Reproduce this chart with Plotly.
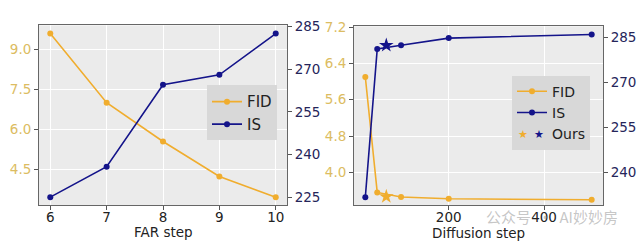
import plotly.graph_objects as go

# ---- data ----
far_steps = [6, 7, 8, 9, 10]
far_fid = [9.58, 7.00, 5.55, 4.24, 3.47]
far_is = [225.0, 235.7, 264.5, 268.0, 282.5]

diff_steps = [25, 50, 100, 200, 500]
diff_fid = [6.10, 3.56, 3.46, 3.42, 3.40]
diff_is = [231.7, 281.1, 282.3, 284.7, 285.9]

ours_step = [69]
ours_fid = [3.47]
ours_is = [282.3]

left_fid_ticks = [4.5, 6.0, 7.5, 9.0]
left_is_ticks = [225, 240, 255, 270, 285]
right_fid_ticks = [4.0, 4.8, 5.6, 6.4, 7.2]
right_is_ticks = [240, 255, 270, 285]
far_ticks = [6, 7, 8, 9, 10]
diff_ticks = [200, 400]

# ---- style ----
FID_C = "#f0ad2e"
IS_C = "#14148a"
FID_TICK = "#dcbc62"
IS_TICK = "#25255a"
BG = "#ebebeb"
FONT = "DejaVu Sans"
TICK_SIZE = 13.5

W, H = 644, 245
def px_x(a, b):
    return [a / W, b / W]
def px_y(top, bottom):
    return [1 - bottom / H, 1 - top / H]

fig = go.Figure()

fig.add_trace(go.Scatter(x=far_steps, y=far_fid, name="FID", mode="lines+markers",
                         line=dict(color=FID_C, width=1.6), marker=dict(color=FID_C, size=6),
                         xaxis="x", yaxis="y", legend="legend"))
fig.add_trace(go.Scatter(x=far_steps, y=far_is, name="IS", mode="lines+markers",
                         line=dict(color=IS_C, width=1.6), marker=dict(color=IS_C, size=6),
                         xaxis="x", yaxis="y2", legend="legend"))

fig.add_trace(go.Scatter(x=diff_steps, y=diff_fid, name="FID", mode="lines+markers",
                         line=dict(color=FID_C, width=1.6), marker=dict(color=FID_C, size=6),
                         xaxis="x2", yaxis="y3", legend="legend2"))
fig.add_trace(go.Scatter(x=diff_steps, y=diff_is, name="IS", mode="lines+markers",
                         line=dict(color=IS_C, width=1.6), marker=dict(color=IS_C, size=6),
                         xaxis="x2", yaxis="y4", legend="legend2"))
fig.add_trace(go.Scatter(x=ours_step, y=ours_fid, name="Ours", mode="markers",
                         marker=dict(color=FID_C, size=11, symbol="star"),
                         xaxis="x2", yaxis="y3", showlegend=False))
fig.add_trace(go.Scatter(x=ours_step, y=ours_is, name="Ours", mode="markers",
                         marker=dict(color=IS_C, size=11, symbol="star"),
                         xaxis="x2", yaxis="y4", showlegend=False))
# legend entry for "Ours" (symbols drawn as two stars below)
fig.add_trace(go.Scatter(x=[None], y=[None], name="Ours", mode="markers",
                         marker=dict(color="rgba(0,0,0,0)", size=8),
                         xaxis="x2", yaxis="y4", legend="legend2"))

axis_common = dict(showline=True, linecolor="#666", linewidth=1,
                   ticks="outside", ticklen=4, zeroline=False, tickcolor="#555")

xd1 = px_x(39, 287)
xd2 = px_x(354, 603)
yd1 = px_y(18, 204)
yd2 = px_y(19, 204)

fig.update_layout(
    width=W, height=H, margin=dict(l=0, r=0, t=0, b=0),
    paper_bgcolor="white", plot_bgcolor=BG,
    font=dict(family=FONT, size=13, color="#222"),
    xaxis=dict(domain=xd1, range=[5.8, 10.2], tickvals=far_ticks, anchor="y", mirror=True,
               showgrid=True, gridcolor="white", gridwidth=1.2, ticklabelstandoff=-5,
               tickfont=dict(size=TICK_SIZE, color="#222"), **axis_common),
    yaxis=dict(domain=yd1, range=[3.165, 9.885], tickvals=left_fid_ticks, tickformat=".1f",
               anchor="x", side="left", showgrid=True, gridcolor="white", gridwidth=1.2,
               tickfont=dict(size=TICK_SIZE, color=FID_TICK), **axis_common),
    yaxis2=dict(domain=yd1, range=[222.125, 285.375], tickvals=left_is_ticks,
                anchor="x", overlaying="y", side="right", showgrid=False,
                tickfont=dict(size=TICK_SIZE, color=IS_TICK), **axis_common),
    xaxis2=dict(domain=xd2, range=[1.25, 523.75], tickvals=diff_ticks, anchor="y3", mirror=True,
                showgrid=True, gridcolor="white", gridwidth=1.2, ticklabelstandoff=-5,
                tickfont=dict(size=TICK_SIZE, color="#222"), **axis_common),
    yaxis3=dict(domain=yd2, range=[3.276, 7.215], tickvals=right_fid_ticks, tickformat=".1f",
                anchor="x2", side="left", showgrid=True, gridcolor="white", gridwidth=1.2,
                tickfont=dict(size=TICK_SIZE, color=FID_TICK), **axis_common),
    yaxis4=dict(domain=yd2, range=[229.0, 288.6], tickvals=right_is_ticks,
                anchor="x2", overlaying="y3", side="right", showgrid=False,
                tickfont=dict(size=TICK_SIZE, color=IS_TICK), **axis_common),
    legend=dict(x=207 / W, y=1 - 80 / H, xanchor="left", yanchor="top",
                bgcolor="#d8d8d8", borderwidth=0, font=dict(size=15, color="#222"),
                tracegroupgap=0, itemwidth=30),
    legend2=dict(x=512 / W, y=1 - 70 / H, xanchor="left", yanchor="top",
                 bgcolor="#d8d8d8", borderwidth=0, font=dict(size=14, color="#222"),
                 tracegroupgap=0, itemwidth=30),
    showlegend=True,
)

# axis titles
fig.add_annotation(x=163 / W, y=1 - 232 / H, xref="paper", yref="paper", text="FAR step",
                   showarrow=False, font=dict(size=13.5, color="#222"),
                   xanchor="center", yanchor="middle")
fig.add_annotation(x=478 / W, y=1 - 233 / H, xref="paper", yref="paper", text="Diffusion step",
                   showarrow=False, font=dict(size=13.5, color="#222"),
                   xanchor="center", yanchor="middle")

# two stars for the "Ours" legend entry
fig.add_annotation(x=523 / W, y=1 - 131 / H, xref="paper", yref="paper",
                   text="★", showarrow=False, font=dict(size=11, color=FID_C),
                   xanchor="center", yanchor="middle")
fig.add_annotation(x=539 / W, y=1 - 131 / H, xref="paper", yref="paper",
                   text="★", showarrow=False, font=dict(size=11, color=IS_C),
                   xanchor="center", yanchor="middle")

# watermark
fig.add_annotation(x=620 / W, y=1 - 216 / H, xref="paper", yref="paper",
                   text="公众号  ·  AI妙妙房", showarrow=False,
                   font=dict(size=15, color="rgba(150,150,150,0.55)", family="Noto Sans CJK SC"),
                   xanchor="right", yanchor="middle")

fig.write_html("out.html")
